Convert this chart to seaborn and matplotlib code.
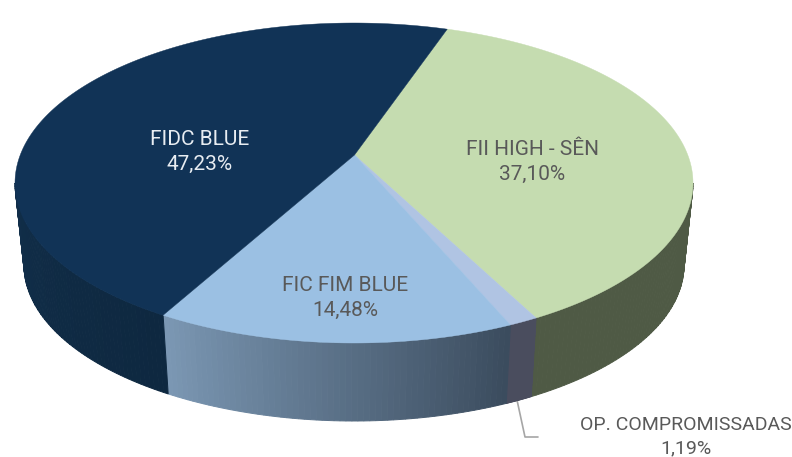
import numpy as np
import matplotlib.pyplot as plt
from matplotlib.patches import Polygon
import seaborn as sns

names = ['FII HIGH - SÊN', 'OP. COMPROMISSADAS', 'FIC FIM BLUE', 'FIDC BLUE']
values = [37.10, 1.19, 14.48, 47.23]
labels = ['37,10%', '1,19%', '14,48%', '47,23%']
top_colors = ['#c5dcb0', '#b0c4e3', '#9bc0e3', '#113356']
wall_left = ['#4f5a45', '#4a4d5e', '#7b97b3', '#112e49']
wall_right = ['#4f5a45', '#4a4d5e', '#3b4c5e', '#0e2840']
text_colors = ['#595959', '#595959', '#595959', '#e8edf2']
label_pos = [(532, 162), (686, 437), (345, 298), (200, 152)]
label_size = [15, 14, 15, 15]

sns.set_theme(style='white')
plt.rcParams['font.family'] = ['Roboto', 'DejaVu Sans']

fig, ax = plt.subplots(figsize=(7.92, 4.57), dpi=100)
ax.set_position([0, 0, 1, 1])
ax.set_xlim(0, 792)
ax.set_ylim(457, 0)
ax.axis('off')

# perspective: pie centre sits above the middle of the ellipse
k = 0.175
start = 19.0


def rim(theta, cx, cy, rx, ry):
    u = np.sin(np.radians(theta))
    v = np.cos(np.radians(theta))
    d = 1 + k * v
    return cx + rx * u * np.sqrt(1 - k ** 2) / d, cy - ry * (v + k) / d


def top_rim(theta):
    return rim(theta, 354, 183, 339, 160)


def bottom_rim(theta):
    return rim(theta, 354, 265, 330, 156)


# angle where the rim reaches the ellipse sides, wall is hidden outside it
side = np.degrees(np.arccos(-k))
edges = start + np.cumsum([0] + values) * 3.6

# side walls
for i in range(len(values)):
    a = max(edges[i], side)
    b = min(edges[i + 1], 360 - side)
    if a >= b:
        continue
    n = 60
    cols = sns.blend_palette([wall_right[i], wall_left[i]], n)
    th = np.linspace(a, b, n + 1)
    for j in range(n):
        t = np.linspace(th[j], th[j + 1], 4)
        x1, y1 = top_rim(t)
        x2, y2 = bottom_rim(t[::-1])
        pts = np.column_stack([np.r_[x1, x2], np.r_[y1, y2]])
        ax.add_patch(Polygon(pts, closed=True, fc=cols[j], ec=cols[j], lw=0.7, zorder=2))

# top face
cy0 = 183 - 160 * k
for i in range(len(values)):
    t = np.linspace(edges[i], edges[i + 1], 200)
    x, y = top_rim(t)
    pts = np.column_stack([np.r_[354.5, x], np.r_[cy0, y]])
    ax.add_patch(Polygon(pts, closed=True, fc=top_colors[i], ec=top_colors[i], lw=0.3, zorder=3))

# leader line of the small slice
sns.lineplot(x=[517, 525, 538], y=[400, 437, 437], sort=False, color='#a6a6a6', lw=1.2, ax=ax, zorder=1)

for name, label, col, size, (x, y) in zip(names, labels, text_colors, label_size, label_pos):
    ax.text(x, y, name + '\n' + label, color=col, fontsize=size, ha='center', va='center',
            linespacing=1.37, zorder=5, clip_on=False)

fig.savefig('out.png', dpi=100)
